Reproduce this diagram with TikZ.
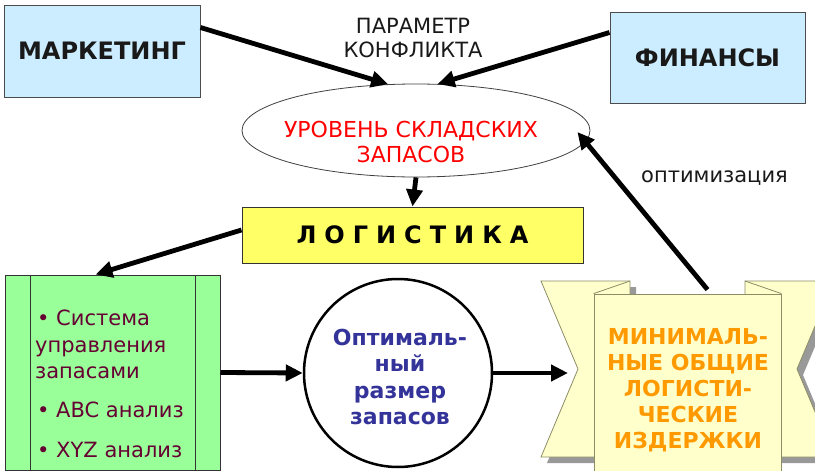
\documentclass[tikz,border=0pt]{standalone}
\usepackage{fontspec}
\setmainfont{DejaVu Sans}
\usetikzlibrary{arrows.meta,shapes.geometric,calc}
\definecolor{boxblue}{HTML}{CCECFF}
\definecolor{logyellow}{HTML}{FFFF66}
\definecolor{boxgreen}{HTML}{99FF99}
\definecolor{maroon}{HTML}{660033}
\definecolor{circblue}{HTML}{333399}
\definecolor{scrollorange}{HTML}{FF9900}
\definecolor{ribbon}{HTML}{FFFFCC}
\definecolor{ribbonline}{HTML}{8C8C66}
\begin{document}
\begin{tikzpicture}[x=1pt,y=-1pt,
  arr/.style={line width=4.8pt,-{Triangle[length=17pt,width=16pt]}},
  bluebox/.style={draw=black!70,line width=1pt,fill=boxblue,minimum width=196pt,minimum height=92pt,inner sep=0pt,font=\fontsize{24}{28}\selectfont\bfseries,text=black!90},
  plain/.style={inner sep=0pt,align=center},
  greentext/.style={inner sep=0pt,anchor=base west,text=maroon,font=\fontsize{21}{26}\selectfont},
  ribbonshape/.style={fill=ribbon,draw=ribbonline,line width=0.8pt},
  ribbonshadow/.style={fill=black!40}]
\useasboundingbox (0,0) rectangle (815,471);
\clip (0,0) rectangle (815,471);
\fill[white] (0,0) rectangle (815,471);

% top boxes
\node[bluebox] (mk) at (102,51) {МАРКЕТИНГ};
\node[bluebox,minimum width=195pt,minimum height=91pt] (fin) at (707.5,57.5) {ФИНАНСЫ};
\node[plain,font=\fontsize{21}{24}\selectfont,text=black!90] (param) at (413,38) {ПАРАМЕТР\\КОНФЛИКТА};

% ellipse
\node[ellipse,draw=black!75,line width=0.8pt,minimum width=348pt,minimum height=93pt,inner sep=0pt] (ell) at (416,130.5) {};
\node[plain,text=red,font=\fontsize{22}{25}\selectfont] (elltext) at (411,142) {УРОВЕНЬ СКЛАДСКИХ\\ЗАПАСОВ};

% logistics
\node[draw=black!80,line width=1pt,fill=logyellow,minimum width=341pt,minimum height=56pt,inner sep=0pt,font=\fontsize{24}{26}\selectfont\bfseries] (log) at (412.5,235) {Л\,\,О\,\,Г\,\,И\,\,С\,\,Т\,\,И\,\,К\,\,А};

% green box
\node[draw=black!80,line width=1pt,fill=boxgreen,minimum width=215pt,minimum height=195pt,inner sep=0pt] (green) at (112.5,372.5) {};
\draw[black!80,line width=1pt] ([xshift=26pt]green.north west) -- ([xshift=26pt]green.south west);
\draw[black!80,line width=1pt] ([xshift=-25pt]green.north east) -- ([xshift=-25pt]green.south east);
\node[greentext] (g1) at (37,325) {• Система};
\node[greentext] (g2) at (35,352) {управления};
\node[greentext] (g3) at (35,378) {запасами};
\node[greentext] (g4) at (37,417) {• ABC анализ};
\node[greentext] (g5) at (37,457) {• XYZ анализ};

% circle
\node[circle,draw=black,line width=2.5pt,fill=white,minimum size=188pt,inner sep=0pt] (circ) at (398,373) {};
\node[plain,text=circblue,font=\fontsize{22}{26.5}\selectfont\bfseries] (circtext) at (400,377) {Оптималь-\\ный\\размер\\запасов};

% scroll
\fill[ribbonshadow] (547,287) -- (636,287) -- (636,463) -- (547,463) -- (584,375) -- cycle;
\fill[ribbonshadow] (840,287) -- (751,287) -- (751,463) -- (840,463) -- (803,375) -- cycle;
\draw[ribbonshape] (541,281) -- (630,281) -- (630,457) -- (541,457) -- (578,369) -- cycle;
\draw[ribbonshape] (834,281) -- (745,281) -- (745,457) -- (834,457) -- (797,369) -- cycle;
\coordinate (notchL) at (578,372);
\node[fill=ribbon,draw=ribbonline,line width=0.8pt,minimum width=187pt,minimum height=185pt,inner sep=0pt] (panel) at (687.5,386.5) {};
\draw[ribbonline,line width=0.8pt] (panel.north west) -- (630,281);
\draw[ribbonline,line width=0.8pt] (panel.north east) -- (745,281);
\node[plain,text=scrollorange,font=\fontsize{22}{26}\selectfont\bfseries] (scrolltext) at (688,390) {МИНИМАЛЬ-\\НЫЕ ОБЩИЕ\\ЛОГИСТИ-\\ЧЕСКИЕ\\ИЗДЕРЖКИ};

% label
\node[plain,font=\fontsize{21}{24}\selectfont,text=black!90] (optlabel) at (714.5,178) {оптимизация};

% arrows
\draw[arr] ([yshift=-23pt]mk.north east) -- (ell.121.6);
\draw[arr] ([yshift=-21pt]fin.north west) -- (ell.65.5);
\draw[arr] (ell.south) -- (log.north);
\draw[arr] ([yshift=5pt]log.west) -- ([xshift=-17pt]green.north);
\draw[arr] (green.east) -- (circ.west);
\draw[arr] (circ.east) -- ([xshift=-10pt]circ.east -| notchL);
\draw[arr] ([xshift=20pt,yshift=4pt]panel.north) -- ([xshift=-13pt,yshift=-1.5pt]ell.east);
\end{tikzpicture}
\end{document}
